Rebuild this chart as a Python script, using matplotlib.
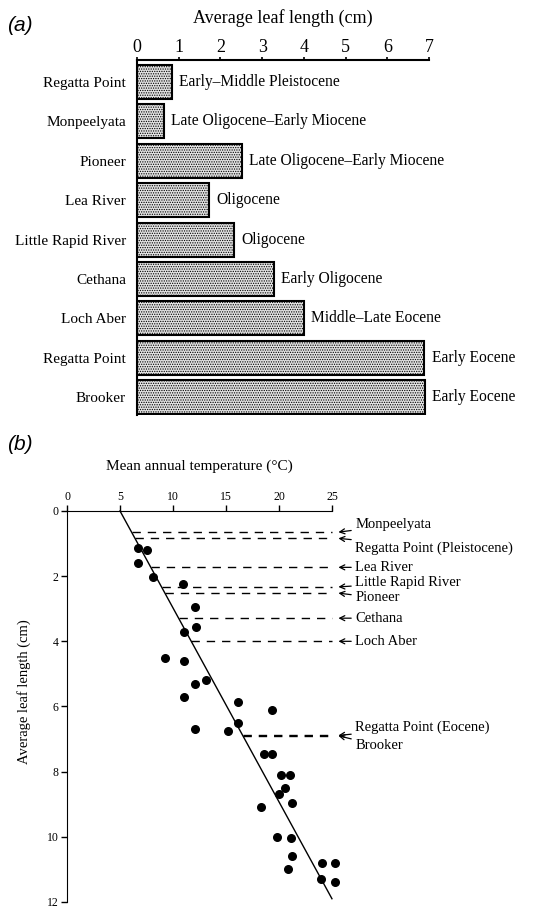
import numpy as np
import matplotlib
matplotlib.use("Agg")
import matplotlib.pyplot as plt

plt.rcParams['font.family'] = ['Liberation Serif', 'DejaVu Serif']
plt.rcParams['hatch.color'] = '#8c8c8c'
plt.rcParams['hatch.linewidth'] = 0.6

# leaf length by site (panel a)
sites = ["Regatta Point", "Monpeelyata", "Pioneer", "Lea River", "Little Rapid River",
         "Cethana", "Loch Aber", "Regatta Point", "Brooker"]
epochs = ["Early\u2013Middle Pleistocene", "Late Oligocene\u2013Early Miocene",
          "Late Oligocene\u2013Early Miocene", "Oligocene", "Oligocene",
          "Early Oligocene", "Middle\u2013Late Eocene", "Early Eocene", "Early Eocene"]
leaf_len = [0.84, 0.65, 2.52, 1.73, 2.33, 3.29, 4.0, 6.89, 6.9]

# modern calibration data (panel b): temperature vs leaf length
mat = [6.7, 7.5, 6.7, 8.1, 10.9, 12.1, 12.2, 11.0, 9.2, 11.0, 13.1, 12.1, 11.0, 16.1,
       19.3, 16.1, 12.1, 15.2, 18.6, 19.3, 20.2, 21.0, 20.6, 20.0, 21.2, 18.3, 19.8,
       21.1, 21.2, 20.8, 24.1, 25.3, 24.0, 25.3]
leaf = [1.15, 1.2, 1.6, 2.04, 2.24, 2.94, 3.56, 3.7, 4.5, 4.6, 5.2, 5.3, 5.7, 5.85,
        6.1, 6.5, 6.7, 6.75, 7.45, 7.45, 8.1, 8.1, 8.5, 8.7, 8.95, 9.07, 10.0,
        10.05, 10.6, 11.0, 10.8, 10.8, 11.3, 11.4]

# regression: temperature = a + b * leaf length
fit_a, fit_b = 5.0, 1.68
fit_leaf = [0.0, 11.9]

# fossil sites projected onto the regression (panel b)
fossil_names = ["Monpeelyata", "Regatta Point (Pleistocene)", "Lea River",
                "Little Rapid River", "Pioneer", "Cethana", "Loch Aber",
                "Regatta Point (Eocene)", "Brooker"]
fossil_len = [0.65, 0.84, 1.73, 2.33, 2.52, 3.29, 4.0, 6.89, 6.9]
fossil_text_y = [0.43, 1.13, 1.73, 2.2, 2.67, 3.29, 4.0, 6.63, 7.2]

fig = plt.figure(figsize=(5.47, 9.11), dpi=100)

# ---- panel (a) ----
ax = fig.add_axes([0.2505, 0.5445, 0.5338, 0.3897])
y = np.arange(len(sites))
ax.barh(y, leaf_len, height=0.86, color='#e2e2e2', edgecolor='black', linewidth=1.5,
        hatch='.......', zorder=2)
ax.set_xlim(0, 7)
ax.set_ylim(8.45, -0.56)
ax.xaxis.tick_top()
ax.set_xticks(range(8))
ax.tick_params(axis='x', direction='out', length=2.5, width=1.2, labelsize=13, pad=0)
ax.set_yticks(y)
ax.set_yticklabels(sites, fontsize=11)
ax.tick_params(axis='y', length=0, pad=8)
for s in ['right', 'bottom']:
    ax.spines[s].set_visible(False)
for s in ['top', 'left']:
    ax.spines[s].set_linewidth(1.5)
for i, (v, e) in enumerate(zip(leaf_len, epochs)):
    ax.text(v + 0.17, i, e, va='center', ha='left', fontsize=11.2)
ax.set_title("Average leaf length (cm)", fontsize=13, pad=27)
fig.text(0.012, 0.972, "(a)", fontsize=15, family='Liberation Sans', style='italic',
         va='center')

# ---- panel (b) ----
bx = fig.add_axes([0.1225, 0.0099, 0.4845, 0.4292])
bx.set_xlim(0, 25)
bx.set_ylim(12, 0)
bx.xaxis.tick_top()
bx.set_xticks(range(0, 30, 5))
bx.set_yticks(range(0, 14, 2))
bx.tick_params(axis='both', direction='out', length=4, width=1, labelsize=8.5, pad=2)
for s in ['right', 'bottom']:
    bx.spines[s].set_visible(False)
bx.scatter(mat, leaf, s=30, color='black', zorder=3, clip_on=False)
fx = [fit_a + fit_b * v for v in fit_leaf]
bx.plot(fx, fit_leaf, color='black', lw=1, clip_on=False)

for name, v, ty in zip(fossil_names, fossil_len, fossil_text_y):
    x0 = fit_a + fit_b * v
    bx.plot([x0, 25.0], [v, v], color='black', lw=1, ls=(0, (6, 5)), clip_on=False)
    bx.annotate(name, xy=(25.6, v), xytext=(27.2, ty), fontsize=10.5, va='center',
                ha='left', annotation_clip=False,
                arrowprops=dict(arrowstyle='->', lw=0.9, color='black',
                                shrinkA=1, shrinkB=0, mutation_scale=9))

bx.set_xlabel("Mean annual temperature (\u00b0C)", fontsize=11, labelpad=15)
bx.xaxis.set_label_position('top')
bx.set_ylabel("Average leaf length (cm)", fontsize=10.5)
bx.yaxis.set_label_coords(-0.136, 0.537)
fig.text(0.012, 0.512, "(b)", fontsize=15, family='Liberation Sans', style='italic',
         va='center')

fig.savefig("out.png", dpi=100)
